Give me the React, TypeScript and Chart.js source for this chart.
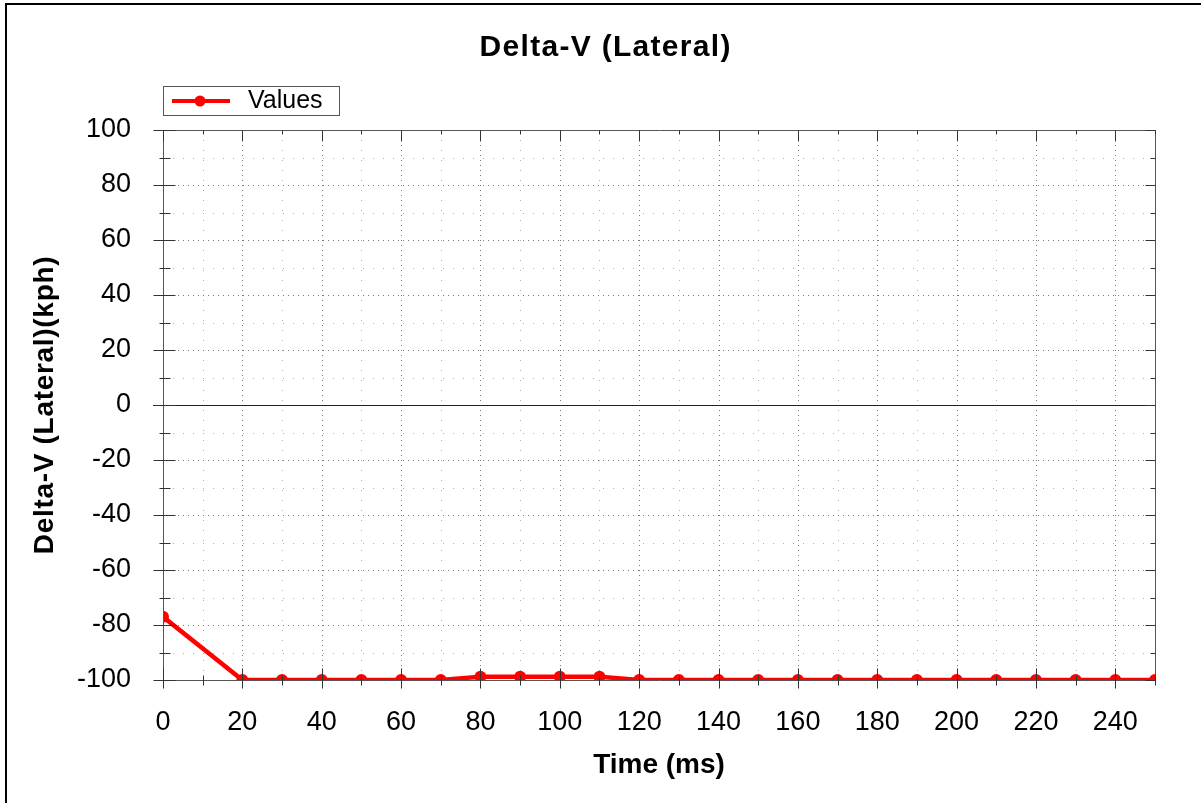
import React, { useEffect, useRef } from "react";
import { Chart, registerables } from "chart.js";

Chart.register(...registerables);

// ---- data ----
const timeMs = [0, 20, 30, 40, 50, 60, 70, 80, 90, 100, 110, 120, 130, 140, 150, 160, 170, 180, 190, 200, 210, 220, 230, 240, 250];
const deltaVKph = [-77, -100, -100, -100, -100, -100, -100, -98.8, -98.8, -98.8, -98.8, -100, -100, -100, -100, -100, -100, -100, -100, -100, -100, -100, -100, -100, -100];
const xRange = [0, 250];
const yRange = [-100, 100];
const minorStep = 10;
const labelStep = 20;
const chartTitle = "Delta-V (Lateral)";
const xAxisTitle = "Time (ms)";
const yAxisTitle = "Delta-V (Lateral)(kph)";
const seriesName = "Values";

const FONT = "'Liberation Sans', Arial, Helvetica, sans-serif";
const RED = "#ff0000";

const customPlugin = {
  id: "customDecor",
  beforeDraw(chart: any) {
    const ctx = chart.ctx;
    ctx.save();
    ctx.fillStyle = "#ffffff";
    ctx.fillRect(0, 0, chart.width, chart.height);
    ctx.restore();
  },
  beforeDatasetsDraw(chart: any) {
    const { ctx, chartArea: a, scales } = chart;
    const xs = scales.x;
    const ys = scales.y;
    ctx.save();
    ctx.lineWidth = 1;
    xs.ticks.forEach((t: any) => {
      const v = t.value;
      if (v === xRange[0] || v === xRange[1]) return;
      const major = v % labelStep === 0;
      const px = Math.round(xs.getPixelForValue(v)) + 0.5;
      ctx.strokeStyle = major ? "#7a7a7a" : "#b0b0b0";
      ctx.setLineDash(major ? [1, 4] : [1, 9]);
      ctx.beginPath();
      ctx.moveTo(px, a.top);
      ctx.lineTo(px, a.bottom);
      ctx.stroke();
    });
    ys.ticks.forEach((t: any) => {
      const v = t.value;
      if (v === yRange[0] || v === yRange[1] || v === 0) return;
      const major = v % labelStep === 0;
      const py = Math.round(ys.getPixelForValue(v)) + 0.5;
      ctx.strokeStyle = major ? "#7a7a7a" : "#b0b0b0";
      ctx.setLineDash(major ? [1, 4] : [1, 9]);
      ctx.beginPath();
      ctx.moveTo(a.left, py);
      ctx.lineTo(a.right, py);
      ctx.stroke();
    });
    ctx.setLineDash([]);
    // zero line
    const zy = Math.round(ys.getPixelForValue(0)) + 0.5;
    ctx.strokeStyle = "#222222";
    ctx.beginPath();
    ctx.moveTo(a.left - 10, zy);
    ctx.lineTo(a.right, zy);
    ctx.stroke();
    ctx.restore();
  },
  afterDatasetsDraw(chart: any) {
    const { ctx, chartArea: a, scales } = chart;
    const xs = scales.x;
    const ys = scales.y;
    ctx.save();
    ctx.lineWidth = 1;
    ctx.strokeStyle = "#555555";
    const L = Math.round(a.left) + 0.5;
    const R = Math.round(a.right) + 0.5;
    const T = Math.round(a.top) + 0.5;
    const B = Math.round(a.bottom) + 0.5;
    ctx.beginPath();
    ctx.rect(L, T, R - L, B - T);
    ctx.stroke();
    ctx.strokeStyle = "#333333";
    xs.ticks.forEach((t: any) => {
      const v = t.value;
      const major = v % labelStep === 0;
      const px = Math.round(xs.getPixelForValue(v)) + 0.5;
      ctx.beginPath();
      if (major) {
        ctx.moveTo(px, B - 12);
        ctx.lineTo(px, B + 8);
        ctx.moveTo(px, T);
        ctx.lineTo(px, T + 11);
      } else {
        ctx.moveTo(px, B - 5);
        ctx.lineTo(px, B + 5);
        ctx.moveTo(px, T);
        ctx.lineTo(px, T + 4);
      }
      ctx.stroke();
    });
    ys.ticks.forEach((t: any) => {
      const v = t.value;
      const major = v % labelStep === 0;
      const py = Math.round(ys.getPixelForValue(v)) + 0.5;
      ctx.beginPath();
      if (major) {
        ctx.moveTo(L - 10, py);
        ctx.lineTo(L + 12, py);
        ctx.moveTo(R - 10, py);
        ctx.lineTo(R, py);
      } else {
        ctx.moveTo(L - 4, py);
        ctx.lineTo(L + 7, py);
        ctx.moveTo(R - 5, py);
        ctx.lineTo(R, py);
      }
      ctx.stroke();
    });
    ctx.restore();
  },
  afterDraw(chart: any) {
    const { ctx, chartArea: a } = chart;
    ctx.save();
    // frame
    ctx.fillStyle = "#000000";
    ctx.fillRect(5, 3, 2, chart.height);
    ctx.fillRect(5, 3, chart.width, 2);

    // title
    ctx.fillStyle = "#000000";
    ctx.font = `bold 30px ${FONT}`;
    ctx.textBaseline = "alphabetic";
    ctx.textAlign = "left";
    (ctx as any).letterSpacing = "1.3px";
    const tw = ctx.measureText(chartTitle).width - 1.3;
    ctx.fillText(chartTitle, 605 - tw / 2, 56);

    // x axis title
    (ctx as any).letterSpacing = "0px";
    ctx.font = `bold 28px ${FONT}`;
    ctx.textAlign = "center";
    ctx.fillText(xAxisTitle, (a.left + a.right) / 2, 773);

    // y axis title
    ctx.save();
    ctx.translate(53, (a.top + a.bottom) / 2);
    ctx.rotate(-Math.PI / 2);
    (ctx as any).letterSpacing = "0.7px";
    ctx.textAlign = "center";
    ctx.fillText(yAxisTitle, 0, 0);
    ctx.restore();

    // legend
    (ctx as any).letterSpacing = "0px";
    ctx.fillStyle = "#ffffff";
    ctx.fillRect(163.5, 86.5, 176, 29);
    ctx.strokeStyle = "#555555";
    ctx.lineWidth = 1;
    ctx.strokeRect(163.5, 86.5, 176, 29);
    ctx.strokeStyle = RED;
    ctx.lineWidth = 4;
    ctx.beginPath();
    ctx.moveTo(172, 101);
    ctx.lineTo(230, 101);
    ctx.stroke();
    ctx.fillStyle = RED;
    ctx.beginPath();
    ctx.arc(200, 101, 5.5, 0, Math.PI * 2);
    ctx.fill();
    ctx.fillStyle = "#000000";
    ctx.font = `25px ${FONT}`;
    ctx.textAlign = "left";
    ctx.textBaseline = "alphabetic";
    ctx.fillText(seriesName, 248, 108);
    ctx.restore();
  },
};

export default function App() {
  const canvasRef = useRef<HTMLCanvasElement | null>(null);

  useEffect(() => {
    const canvas = canvasRef.current;
    if (!canvas) return;
    const points = timeMs.map((t, i) => ({ x: t, y: deltaVKph[i] }));
    const chart = new Chart(canvas, {
      type: "line",
      data: {
        datasets: [
          {
            label: seriesName,
            data: points,
            borderColor: RED,
            backgroundColor: RED,
            borderWidth: 4.5,
            pointRadius: 6,
            pointHoverRadius: 6,
            pointBorderWidth: 0,
            tension: 0,
            clip: 0,
          } as any,
        ],
      },
      options: {
        responsive: false,
        animation: false,
        events: [],
        devicePixelRatio: 1,
        layout: { padding: { left: 0, top: 130, right: 46, bottom: 0 } },
        plugins: {
          legend: { display: false },
          title: { display: false },
          tooltip: { enabled: false },
        },
        scales: {
          x: {
            type: "linear",
            min: xRange[0],
            max: xRange[1],
            afterFit: (s: any) => {
              s.height = 123;
            },
            ticks: {
              stepSize: minorStep,
              maxTicksLimit: 100,
              autoSkip: false,
              maxRotation: 0,
              minRotation: 0,
              padding: 26,
              color: "#000000",
              font: { family: FONT, size: 27 },
              callback: (v: any) => (Number(v) % labelStep === 0 ? String(v) : ""),
            },
            grid: { display: false, drawTicks: false },
            border: { display: false },
          },
          y: {
            type: "linear",
            min: yRange[0],
            max: yRange[1],
            afterFit: (s: any) => {
              s.width = 163;
            },
            ticks: {
              stepSize: minorStep,
              maxTicksLimit: 100,
              autoSkip: false,
              padding: 32,
              color: "#000000",
              font: { family: FONT, size: 27 },
              callback: (v: any) => (Number(v) % labelStep === 0 ? String(v) : ""),
            },
            grid: { display: false, drawTicks: false },
            border: { display: false },
          },
        },
      },
      plugins: [customPlugin],
    });
    return () => {
      chart.destroy();
    };
  }, []);

  return (
    <div style={{ position: "absolute", left: 0, top: 0, width: 1201, height: 803, background: "#ffffff" }}>
      <canvas ref={canvasRef} width={1201} height={803} style={{ display: "block", width: 1201, height: 803 }} />
    </div>
  );
}
